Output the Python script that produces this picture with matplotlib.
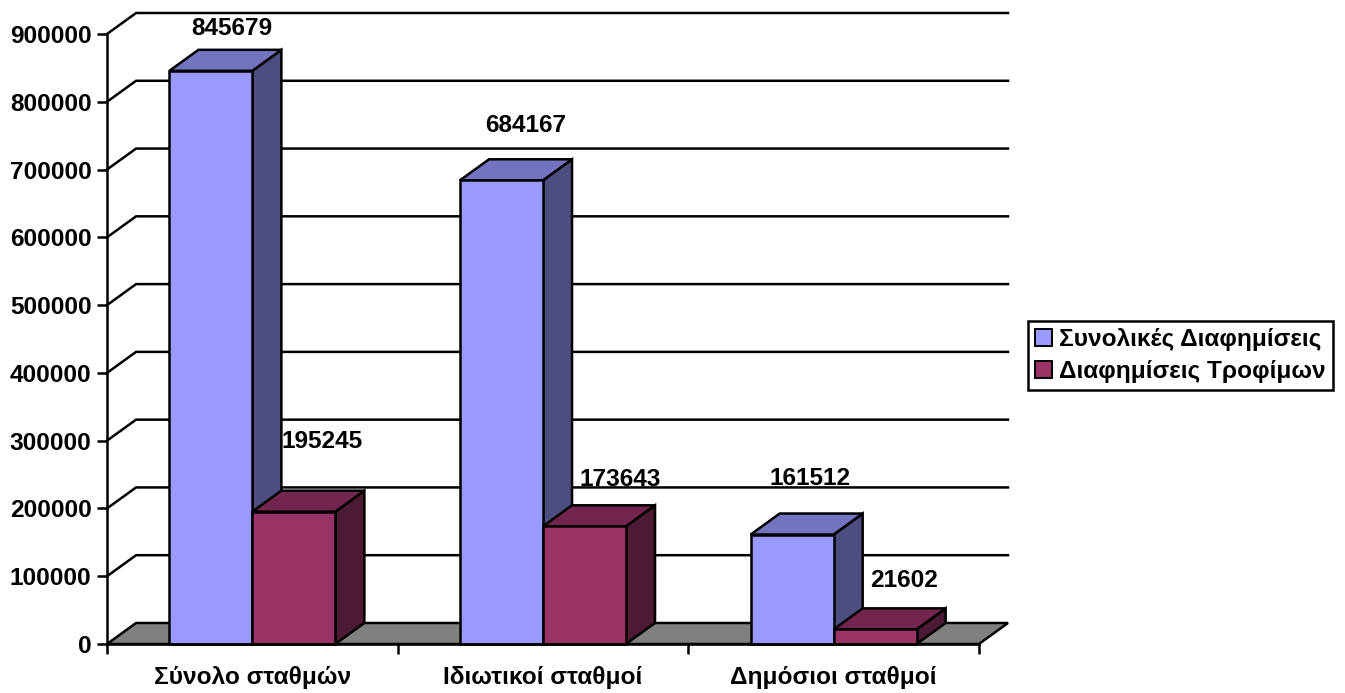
import matplotlib
matplotlib.use("Agg")
import matplotlib.pyplot as plt
from matplotlib.patches import Polygon, Patch

# Data
categories = ["Σύνολο σταθμών", "Ιδιωτικοί σταθμοί", "Δημόσιοι σταθμοί"]
series_names = ["Συνολικές Διαφημίσεις", "Διαφημίσεις Τροφίμων"]
total_ads = [845679, 684167, 161512]
food_ads = [195245, 173643, 21602]
y_ticks = [0, 100000, 200000, 300000, 400000, 500000, 600000, 700000, 800000, 900000]

# Styling
plt.rcParams["font.family"] = ["Liberation Sans", "DejaVu Sans"]
plt.rcParams["font.weight"] = "bold"
FS = 17.6
LW = 1.8
FRONT = ["#9999FF", "#993366"]
TOP = ["#7373BF", "#73264D"]
SIDE = ["#4D4D80", "#4D1A33"]
FLOOR = "#808080"
BAR_W = 0.2855
DX, DY = 0.1, 31000            # 3-D depth offset in data units
# value-label nudges in pixels (dx, dy) from the front-top centre of each bar
label_nudge = [
    [(21, 42), (24, 55), (18, 56)],
    [(28, 70), (36, 47), (29, 49)],
]

fig = plt.figure(figsize=(13.45, 6.93), dpi=100)
ax = fig.add_axes([107 / 1345, 49 / 693, 901 / 1345, 631 / 693])
ax.set_xlim(0, 3 + DX)
ax.set_ylim(0, 900000 + DY)
ax.set_facecolor("none")

n = len(categories)

# back wall gridlines with their receding diagonals
for v in y_ticks[1:]:
    ax.plot([0, DX, n + DX], [v, v + DY, v + DY], color="black", lw=LW,
            zorder=1, clip_on=False, solid_joinstyle="miter")

# floor
ax.add_patch(Polygon([(0, 0), (n, 0), (n + DX, DY), (DX, DY)], closed=True,
                     facecolor=FLOOR, edgecolor="black", lw=LW, zorder=2,
                     clip_on=False, joinstyle="miter"))

series = [total_ads, food_ads]
for s, vals in enumerate(series):
    xs = [i + 0.5 - BAR_W + s * BAR_W for i in range(n)]
    bars = ax.bar(xs, vals, width=BAR_W, align="edge", color=FRONT[s],
                  edgecolor="black", linewidth=LW, zorder=4 + 2 * s,
                  clip_on=False)
    for k, (rect, v) in enumerate(zip(bars, vals)):
        x0 = rect.get_x()
        x1 = x0 + rect.get_width()
        h = rect.get_height()
        side = Polygon([(x1, 0), (x1 + DX, DY), (x1 + DX, h + DY), (x1, h)],
                       closed=True, facecolor=SIDE[s], edgecolor="black",
                       lw=LW, zorder=3 + 2 * s, clip_on=False, joinstyle="miter")
        top = Polygon([(x0, h), (x0 + DX, h + DY), (x1 + DX, h + DY), (x1, h)],
                      closed=True, facecolor=TOP[s], edgecolor="black",
                      lw=LW, zorder=3 + 2 * s, clip_on=False, joinstyle="miter")
        ax.add_patch(side)
        ax.add_patch(top)
        ndx, ndy = label_nudge[s][k]
        ax.annotate(f"{v}", xy=(x0 + BAR_W / 2, h), xytext=(ndx, ndy),
                    textcoords="offset pixels", ha="center", va="center",
                    fontsize=FS, fontweight="bold", zorder=10)

# axes lines and ticks
for sp in ["top", "right"]:
    ax.spines[sp].set_visible(False)
ax.spines["left"].set_bounds(0, 900000)
ax.spines["bottom"].set_bounds(0, n)
for sp in ["left", "bottom"]:
    ax.spines[sp].set_linewidth(LW)
    ax.spines[sp].set_zorder(8)

ax.set_yticks(y_ticks)
ax.set_yticklabels([str(v) for v in y_ticks])
ax.tick_params(axis="y", direction="out", length=7.2, width=LW, pad=4,
               labelsize=FS)

ax.set_xticks(range(n + 1))
ax.set_xticklabels([""] * (n + 1))
ax.set_xticks([i + 0.5 for i in range(n)], minor=True)
ax.set_xticklabels(categories, minor=True)
ax.tick_params(axis="x", which="major", direction="out", length=7.2, width=LW)
ax.tick_params(axis="x", which="minor", length=0, pad=16, labelsize=FS)

# legend
handles = [Patch(facecolor=FRONT[i], edgecolor="black", linewidth=1.4)
           for i in range(2)]
leg = fig.legend(handles, series_names, loc="center left",
                 bbox_to_anchor=(1028 / 1345, 1 - 355.5 / 693),
                 frameon=True, fancybox=False, edgecolor="black",
                 framealpha=1, fontsize=FS, handlelength=0.7,
                 handleheight=0.7, handletextpad=0.25, borderpad=0.3,
                 labelspacing=0.35, borderaxespad=0)
leg.get_frame().set_linewidth(LW)

fig.savefig("out.png", dpi=100)
